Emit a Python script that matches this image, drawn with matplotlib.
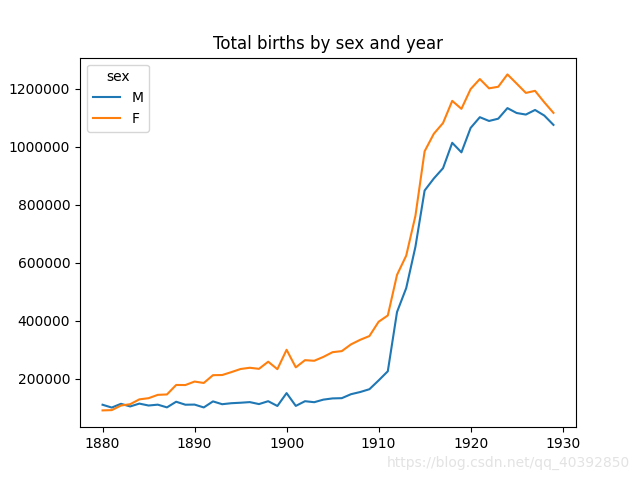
import numpy as np
import matplotlib
matplotlib.use("Agg")
import matplotlib.pyplot as plt

years = np.arange(1880, 1930)
# births per year (names dataset 1880-1929)
births_m = [110493, 100748, 113687, 104632, 114445, 107802, 110785, 101412, 120857, 110590,
            111026, 101198, 122038, 112319, 115775, 117398, 119575, 112760, 122703, 106218,
            150554, 106478, 122660, 119240, 128129, 132319, 133159, 146838, 154339, 163983,
            194198, 225936, 429926, 512482, 654746, 848647, 890142, 925623, 1013154, 980215,
            1064468, 1101374, 1088380, 1096227, 1132671, 1115798, 1110440, 1126259, 1107113, 1074833]
births_f = [90993, 91955, 107851, 112322, 129021, 133056, 144538, 145983, 178631, 178369,
            190377, 185486, 212350, 212908, 222923, 233632, 237924, 234199, 258771, 233022,
            299873, 239351, 264079, 261976, 275375, 291641, 295301, 318558, 334277, 347191,
            396416, 418180, 557939, 624317, 761376, 983824, 1044249, 1081194, 1157585, 1130149,
            1198214, 1232845, 1200796, 1206239, 1248821, 1217217, 1185078, 1192207, 1152836, 1116284]

fig, ax = plt.subplots(figsize=(6.4, 4.8), dpi=100)
ax.plot(years, births_m, label="M")
ax.plot(years, births_f, label="F")
ax.set_title("Total births by sex and year")
ax.set_xticks([1880, 1890, 1900, 1910, 1920, 1930])
ax.ticklabel_format(axis="y", style="plain")
ax.legend(title="sex", loc="upper left")
fig.text(0.985, 0.02, "https://blog.csdn.net/qq_40392850", ha="right", va="bottom",
         color="#e3e3e3", fontsize=10)
fig.savefig("out.png")
